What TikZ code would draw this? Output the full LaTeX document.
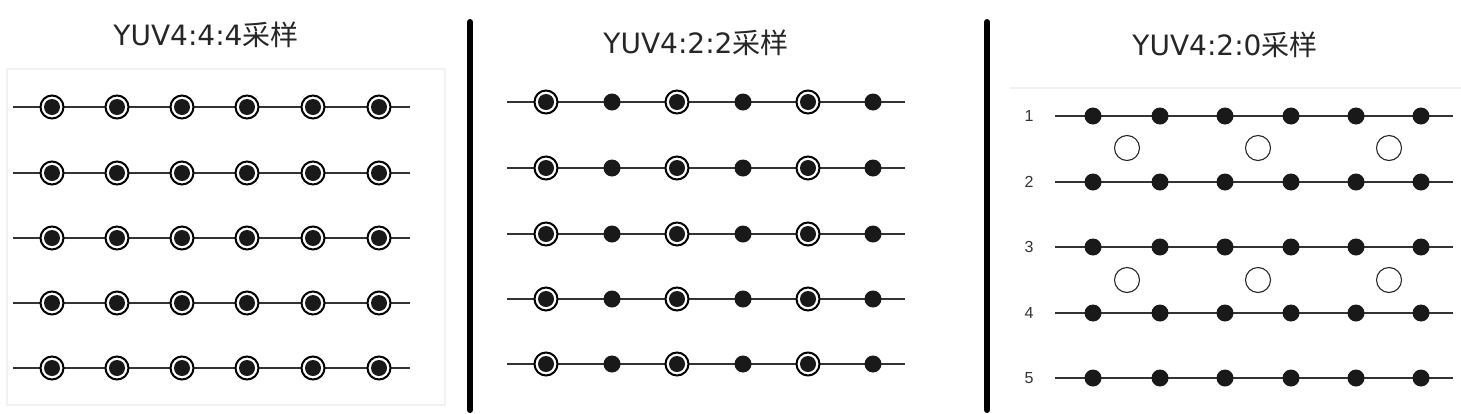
\documentclass[tikz,border=0pt]{standalone}
\usepackage{fontspec}
\setmainfont{Liberation Sans}
\newfontfamily\cjk{Noto Sans CJK SC}
\newfontfamily\dejavu{DejaVu Sans}
\begin{document}
\begin{tikzpicture}[x=1pt,y=-1pt,
  ring/.style={circle,draw=black,line width=2pt,fill=white,minimum size=23pt,inner sep=0pt},
  dot/.style={circle,fill=black!90,minimum size=16pt,inner sep=0pt},
  sdot/.style={circle,fill=black!90,minimum size=17pt,inner sep=0pt},
  hollow/.style={circle,draw=black!85,line width=1.1pt,fill=white,minimum size=25pt,inner sep=0pt},
  rowline/.style={line width=1.6pt,black!80},
  divider/.style={line width=6pt,black,line cap=round},
  title/.style={font=\fontsize{28}{32}\selectfont, text=black!85, inner sep=0pt},
  lbl/.style={font=\fontsize{16}{18}\selectfont, text=black!80, inner sep=0pt},
  frame/.style={draw=gray!10,line width=1.2pt}]
\useasboundingbox (0,0) rectangle (1461,413);
\fill[white] (0,0) rectangle (1461,413);

% faint frames
\draw[frame] (7,69) rectangle (445,405);
\coordinate (f3a) at (1010,88);
\coordinate (f3b) at (1461,88);
\draw[frame] (f3a) -- (f3b);

% dividers
\coordinate (d1t) at (470,22);
\coordinate (d1b) at (470,410);
\coordinate (d2t) at (987,22);
\coordinate (d2b) at (987,410);
\draw[divider] (d1t) -- (d1b);
\draw[divider] (d2t) -- (d2b);

% Panel 1: YUV 4:4:4
\node[title] (t1) at (206,35) {{\dejavu YUV4:4:4}{\cjk 采样}};
\foreach \r/\y in {1/107,2/173,3/238,4/303,5/368}{
  \coordinate (a\r s) at (13,\y);
  \coordinate (a\r e) at (410,\y);
  \draw[rowline] (a\r s) -- (a\r e);
  \foreach \c/\x in {1/52,2/117,3/182,4/247,5/313,6/379}{
    \node[ring] (a\r-\c) at (\x,\y) {};
    \node[dot] (a\r-\c i) at (a\r-\c) {};
  }
}

% Panel 2: YUV 4:2:2
\node[title] (t2) at (696,43) {{\dejavu YUV4:2:2}{\cjk 采样}};
\foreach \r/\y in {1/102,2/168,3/234,4/299,5/364}{
  \coordinate (b\r s) at (507,\y);
  \coordinate (b\r e) at (905,\y);
  \draw[rowline] (b\r s) -- (b\r e);
  \foreach \c/\x in {1/546,3/677,5/808}{
    \node[ring] (b\r-\c) at (\x,\y) {};
    \node[dot] (b\r-\c i) at (b\r-\c) {};
  }
  \foreach \c/\x in {2/612,4/743,6/873}{
    \node[sdot] (b\r-\c) at (\x,\y) {};
  }
}

% Panel 3: YUV 4:2:0
\node[title] (t3) at (1225,45) {{\dejavu YUV4:2:0}{\cjk 采样}};
\foreach \r/\y in {1/116,2/182,3/247,4/313,5/378}{
  \node[lbl] (l\r) at (1029,\y) {\r};
  \coordinate (c\r s) at (1055,\y);
  \coordinate (c\r e) at (1453,\y);
  \draw[rowline] (c\r s) -- (c\r e);
  \foreach \c/\x in {1/1093,2/1160,3/1225,4/1291,5/1356,6/1421}{
    \node[sdot] (c\r-\c) at (\x,\y) {};
  }
}
\foreach \k/\y in {1/148,2/280}{
  \foreach \c/\x in {1/1127,2/1258,3/1389}{
    \node[hollow] (h\k-\c) at (\x,\y) {};
  }
}
\end{tikzpicture}
\end{document}
